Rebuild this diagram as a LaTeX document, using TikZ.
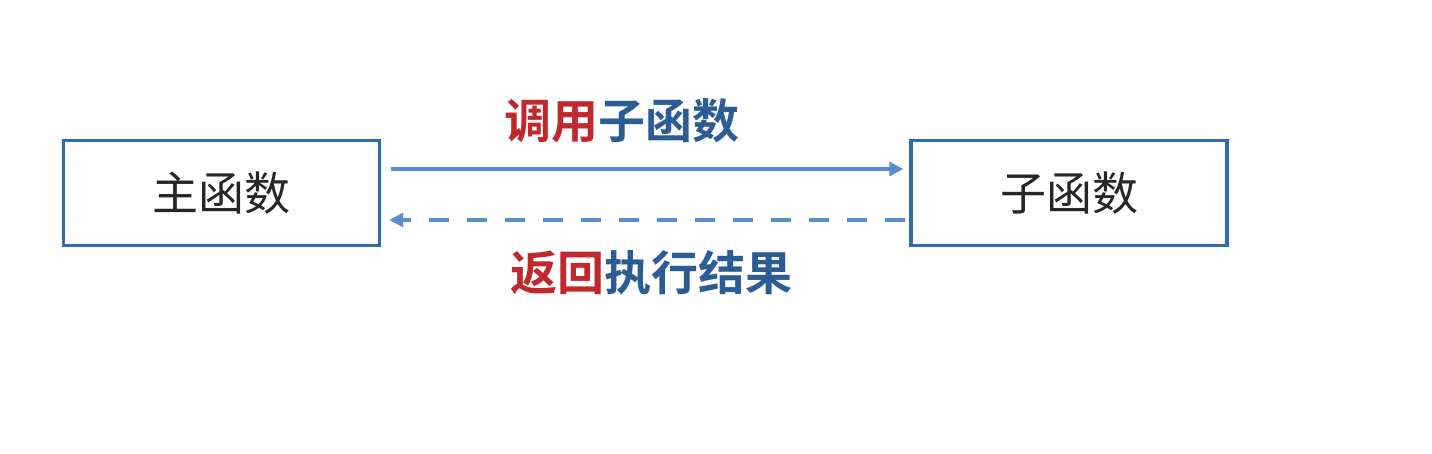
\documentclass[tikz,border=0pt]{standalone}
\usepackage{fontspec}
\newfontfamily\cjk{Noto Sans CJK SC}
\newfontfamily\cjkb{Noto Sans CJK SC Bold}
\usetikzlibrary{arrows.meta}
\definecolor{boxblue}{RGB}{46,108,176}
\definecolor{arrowblue}{RGB}{88,142,208}
\definecolor{lblred}{RGB}{192,40,46}
\definecolor{lblblue}{RGB}{44,92,148}
\tikzset{
  fnbox/.style={draw=boxblue, line width=3.4bp, minimum width=316bp, minimum height=105bp, inner sep=0pt, font=\cjk\fontsize{46bp}{50bp}\selectfont, text=black!85},
  conn/.style={draw=arrowblue, line width=3.2bp, -{Triangle[length=14bp,width=14bp]}},
  lbl/.style={inner sep=0pt, font=\cjkb\fontsize{47bp}{51bp}\selectfont}
}
\begin{document}
\begin{tikzpicture}[x=1bp,y=-1bp]
\useasboundingbox (0,0) rectangle (1432,454);
\node[fnbox] (main) at (221.5,193) {主函数};
\node[fnbox] (sub) at (1069,193) {子函数};
\coordinate (a1) at (main.east |- 0,169);
\coordinate (b1) at (sub.west |- 0,169);
\coordinate (a2) at (main.east |- 0,220);
\coordinate (b2) at (sub.west |- 0,220);
\draw[conn] ([xshift=10bp]a1) -- ([xshift=-6bp]b1);
\draw[conn, dash pattern=on 20bp off 18bp] ([xshift=-4bp]b2) -- ([xshift=8bp]a2);
\node[lbl] (call) at (622,121) {\textcolor{lblred}{调用}\textcolor{lblblue}{子函数}};
\node[lbl] (ret) at (651,273) {\textcolor{lblred}{返回}\textcolor{lblblue}{执行结果}};
\end{tikzpicture}
\end{document}
